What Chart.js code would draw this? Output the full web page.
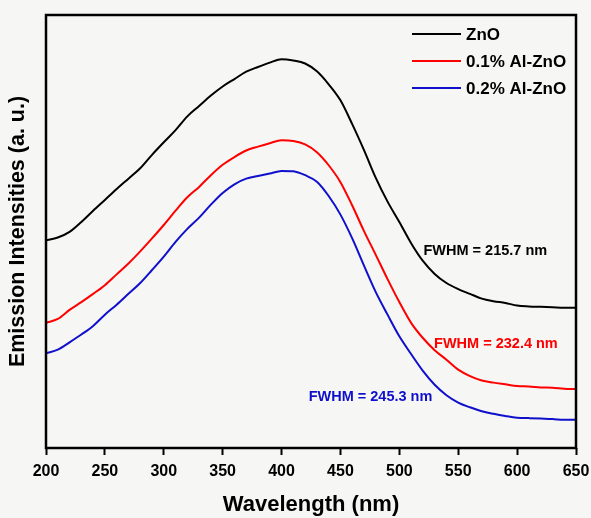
<!DOCTYPE html>
<html>
<head>
<meta charset="utf-8">
<script src="https://cdn.jsdelivr.net/npm/chart.js@4/dist/chart.umd.min.js"></script>
<style>
  html, body { margin: 0; padding: 0; background: #f6f6f4; }
  #wrap { width: 591px; height: 518px; position: relative; }
</style>
</head>
<body>
<div id="wrap"><canvas id="c" width="591" height="518"></canvas></div>
<script>
// ---- data ----
const wavelengths = [200,210,220,230,240,250,260,270,280,290,300,310,320,330,340,350,360,370,380,390,400,410,420,430,440,450,460,470,480,490,500,510,520,530,540,550,560,570,580,590,600,610,620,630,640,650];
const seriesLabels = ['ZnO', '0.1% Al-ZnO', '0.2% Al-ZnO'];
const znO = [48.0,48.6,49.9,52.2,54.8,57.3,59.8,62.2,64.6,67.7,70.6,73.4,76.6,79.0,81.4,83.5,85.2,86.9,88.0,89.0,89.8,89.5,88.8,87.0,84.0,80.3,74.8,68.8,62.4,56.9,52.2,47.3,43.2,40.2,38.1,36.7,35.6,34.5,33.9,33.5,32.9,32.7,32.6,32.5,32.4,32.4];
const al01 = [28.9,29.8,31.9,33.7,35.6,37.6,40.1,42.6,45.4,48.4,51.5,54.8,57.9,60.3,63.0,65.4,67.2,68.7,69.6,70.4,71.1,70.9,70.1,68.3,65.3,61.4,56.0,50.1,44.6,39.0,33.7,28.9,25.4,22.6,20.4,18.1,16.6,15.6,15.1,14.7,14.3,14.2,14.0,13.9,13.7,13.6];
const al02 = [21.9,22.7,24.4,26.2,28.2,30.8,33.1,35.6,38.1,41.1,44.2,47.6,50.6,53.2,56.2,58.9,60.9,62.2,62.8,63.4,64.0,63.9,63.0,61.5,58.2,53.9,48.4,42.1,36.0,30.8,25.8,21.7,17.8,14.6,12.2,10.5,9.4,8.5,7.9,7.4,7.0,6.9,6.8,6.7,6.5,6.5];
const xTicks = [200,250,300,350,400,450,500,550,600,650];
const fwhmTexts = ['FWHM = 215.7 nm', 'FWHM = 232.4 nm', 'FWHM = 245.3 nm'];
const fwhmAnchorX = [573, 582, 475.5];
const fwhmAnchorY = [45.5, 24.0, 11.8];

// ---- styling ----
const FONT = '"Liberation Sans", Arial, sans-serif';
const colors = ['#000000', '#ff0000', '#1010cc'];
const series = [znO, al01, al02];

const toPoints = arr => wavelengths.map((w, i) => ({ x: w, y: arr[i] }));

const bgPlugin = {
  id: 'bg',
  beforeDraw(chart) {
    const ctx = chart.ctx;
    ctx.save();
    ctx.fillStyle = '#f6f6f4';
    ctx.fillRect(0, 0, chart.width, chart.height);
    ctx.restore();
  }
};

const framePlugin = {
  id: 'frame',
  afterDraw(chart) {
    const { ctx, chartArea: a, scales } = chart;
    ctx.save();
    // frame
    ctx.strokeStyle = '#000';
    ctx.lineWidth = 2.5;
    ctx.strokeRect(a.left, a.top, a.right - a.left, a.bottom - a.top);

    // legend (inside top-right)
    ctx.font = 'bold 17px ' + FONT;
    ctx.textBaseline = 'middle';
    ctx.textAlign = 'left';
    chart.data.datasets.forEach((ds, i) => {
      const y = a.top + 19 + i * 27;
      ctx.strokeStyle = ds.borderColor;
      ctx.lineWidth = 2;
      ctx.beginPath();
      ctx.moveTo(a.right - 164, y);
      ctx.lineTo(a.right - 115, y);
      ctx.stroke();
      ctx.fillStyle = '#000';
      ctx.fillText(ds.label, a.right - 110, y + 1);
    });

    // FWHM annotations
    ctx.font = 'bold 14.5px ' + FONT;
    ctx.textAlign = 'center';
    fwhmTexts.forEach((t, i) => {
      ctx.fillStyle = colors[i];
      ctx.fillText(t, scales.x.getPixelForValue(fwhmAnchorX[i]), scales.y.getPixelForValue(fwhmAnchorY[i]));
    });
    ctx.restore();
  }
};

new Chart(document.getElementById('c'), {
  type: 'line',
  data: {
    datasets: series.map((arr, i) => ({
      label: seriesLabels[i],
      data: toPoints(arr),
      borderColor: colors[i],
      backgroundColor: colors[i],
      borderWidth: 2,
      pointRadius: 0,
      cubicInterpolationMode: 'monotone',
      fill: false
    }))
  },
  options: {
    responsive: false,
    animation: false,
    layout: { padding: { top: 15, right: 15, left: 0, bottom: 0 } },
    plugins: { legend: { display: false }, tooltip: { enabled: false } },
    scales: {
      x: {
        type: 'linear',
        min: 200,
        max: 650,
        afterBuildTicks: s => { s.ticks = xTicks.map(v => ({ value: v })); },
        afterFit: s => { s.height = 70; s.paddingLeft = 0; s.paddingRight = 0; },
        border: { display: false },
        grid: { display: true, drawOnChartArea: false, drawTicks: true, tickLength: 7, tickWidth: 2, tickColor: '#000', color: '#000' },
        ticks: { color: '#000', font: { family: FONT, size: 16, weight: 'bold' }, padding: 7, maxRotation: 0 },
        title: { display: true, text: 'Wavelength (nm)', color: '#000', font: { family: FONT, size: 22, weight: 'bold' }, padding: { top: 0, bottom: 0 } }
      },
      y: {
        min: 0,
        max: 100,
        afterFit: s => { s.width = 46; },
        border: { display: false },
        grid: { display: false },
        ticks: { display: false },
        title: { display: true, text: 'Emission Intensities (a. u.)', color: '#000', font: { family: FONT, size: 21.5, weight: 'bold' }, padding: { top: 5, bottom: 0 } }
      }
    }
  },
  plugins: [bgPlugin, framePlugin]
});
</script>
</body>
</html>
